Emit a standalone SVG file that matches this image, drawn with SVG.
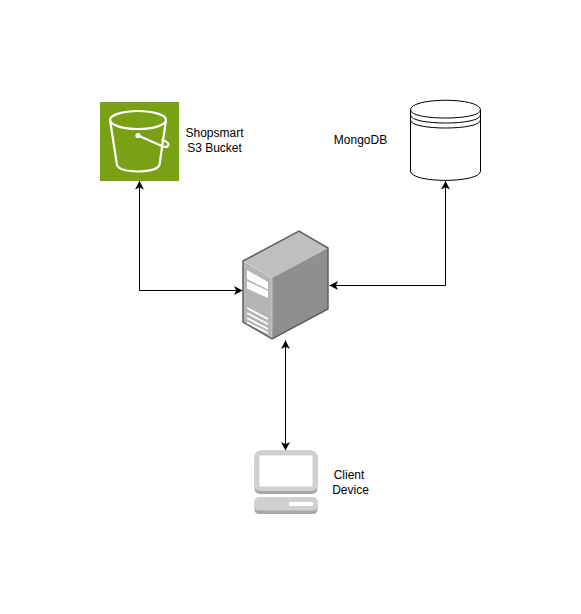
<svg xmlns="http://www.w3.org/2000/svg" width="581" height="614" viewBox="0 0 581 614">
<style>
text{font-family:"Liberation Sans",Arial,sans-serif;font-size:12px;fill:#000;text-anchor:middle}
.c{fill:none;stroke:#000;stroke-width:1}
.b{fill:none;stroke:#fff;stroke-width:2.200}
.d{fill:none;stroke:#000;stroke-width:1}
</style>
<defs>
<marker id="a" markerUnits="userSpaceOnUse" markerWidth="10" markerHeight="10" refX="9" refY="5" orient="auto-start-reverse" viewBox="0 0 10 10"><path d="M0.500 0.500L9 5L0.500 9.500L2.700 5Z" fill="#000"/></marker>
</defs>
<rect width="581" height="614" fill="#fff"/>
<g id="connectors">
<path class="c" d="M139.500 181V290.500H242.500" marker-start="url(#a)" marker-end="url(#a)"/>
<path class="c" d="M445.500 181V285.500H329.500" marker-start="url(#a)" marker-end="url(#a)"/>
<path class="c" d="M285.500 340.500V450.500" marker-start="url(#a)" marker-end="url(#a)"/>
</g>
<g id="s3">
<rect x="100" y="102" width="79" height="79" fill="#7aa116"/>
<ellipse cx="138" cy="120" rx="28" ry="9" class="b"/>
<path class="b" d="M110 120L117 165Q119 171 138 171.500Q157 171 159.500 165L166 120"/>
<path class="b" d="M138 135.500L163 146.500Q168 148 168.500 144.500Q168.500 142 161.500 139.500"/>
<circle cx="138" cy="135.500" r="2.600" fill="#fff"/>
<text x="214.500" y="137">Shopsmart</text>
<text x="214.500" y="152">S3 Bucket</text>
</g>
<g id="mongodb">
<path d="M410.500 110C410.500 97 480.500 97 480.500 110V171C480.500 183.500 410.500 183.500 410.500 171Z" fill="#fff" stroke="#000"/>
<path class="d" d="M410.500 110C410.500 120.700 480.500 120.700 480.500 110M410.500 115C410.500 125.700 480.500 125.700 480.500 115M410.500 120C410.500 130.700 480.500 130.700 480.500 120"/>
<text x="360.500" y="144">MongoDB</text>
</g>
<g id="server">
<path d="M243 261L299 231L328 248L272 278Z" fill="#bfbfbf"/>
<path d="M243 261L272 278V339L243 322Z" fill="#b5b5b5"/>
<path d="M272 278L328 248V309L272 339Z" fill="#8e8f91"/>
<path d="M243 261L272 278V339" fill="none" stroke="#d4d4d4" stroke-width="0.700"/>
<path d="M243 261L299 231L328 248V309L272 339L243 322Z" fill="none" stroke="#5f6062" stroke-width="1.500"/>
<path d="M247 270L268 282V289.500L247 279ZM247 281L268 291V298L247 288.500Z" fill="#fff"/>
<path d="M247 308L268 319M247 313L268 324M247 318L268 329M247 322.500L268 333" stroke="#fff" stroke-width="1.700" fill="none"/>
</g>
<g id="client">
<path d="M254.500 488V458Q254.500 450.500 262 450.500H310Q317.500 450.500 317.500 458V488Q317.500 494 311 494H261Q254.500 494 254.500 488Z" fill="#a8a8a8"/>
<path d="M254.500 485V458Q254.500 450.500 262 450.500H310Q317.500 450.500 317.500 458V485Q317.500 491 311 491H261Q254.500 491 254.500 485Z" fill="#d0d0d0"/>
<rect x="259.500" y="455.500" width="53" height="31" rx="1" fill="#fff"/>
<path d="M254.500 509V502Q254.500 497.500 259 497.500H313Q317.500 497.500 317.500 502V509Q317.500 514 313 514H259Q254.500 514 254.500 509Z" fill="#a8a8a8"/>
<path d="M254.500 506V502Q254.500 497.500 259 497.500H313Q317.500 497.500 317.500 502V506Q317.500 510.500 313 510.500H259Q254.500 510.500 254.500 506Z" fill="#d0d0d0"/>
<rect x="289" y="502" width="24" height="4" rx="1" fill="#fff"/>
<text x="349" y="479">Client</text>
<text x="350.500" y="494">Device</text>
</g>
</svg>
